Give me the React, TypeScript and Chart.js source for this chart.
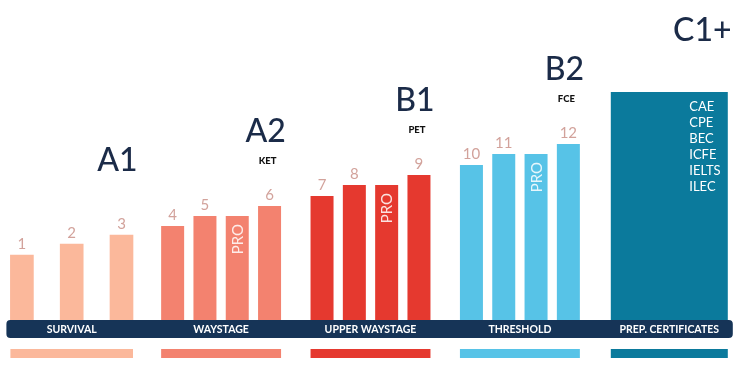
import React, { useEffect, useRef } from 'react';
import { Chart, registerables } from 'chart.js';

Chart.register(...registerables);

// ---- data ----
const categories = ['SURVIVAL', 'WAYSTAGE', 'UPPER WAYSTAGE', 'THRESHOLD', 'PREP. CERTIFICATES'];
const cefrLevels = ['A1', 'A2', 'B1', 'B2', 'C1+'];
const examNames = ['', 'KET', 'PET', 'FCE', ''];
const levelNumbers = ['1', '2', '3', '4', '5', '6', '7', '8', '9', '10', '11', '12'];
const levelScores = [6.5, 7.6, 8.5, 9.4, 10.4, 11.4, 12.4, 13.5, 14.5, 15.5, 16.6, 17.6];
const proScores: (number | null)[] = [null, 10.4, 13.5, 16.6, null];
const certScore = 22.8;
const certExams = ['CAE', 'CPE', 'BEC', 'ICFE', 'IELTS', 'ILEC'];
const proLabel = 'PRO';
const levelsPerGroup = 3;

const groupColors = ['#fbb89b', '#f3826f', '#e5392f', '#57c3e7', '#0b7a9c'];
const bandColor = '#163457';
const navyText = '#1b2b48';
const numberColor = '#d2a29b';
const FONT = 'Lato, "Open Sans", sans-serif';

const levelGroups = categories.length - 1;
const CERT = categories.length - 1;
// survival group (index 0) uses its own slot datasets, the other level groups share theirs
const survivalSlot = (k: number) =>
  categories.map((_, g) => (g === 0 ? levelScores[k] : null));
const levelSlot = (k: number) =>
  categories.map((_, g) => (g > 0 && g < levelGroups ? levelScores[g * levelsPerGroup + k] : null));
const certData = categories.map((_, g) => (g === CERT ? certScore : null));

// dataset index of the k-th numbered bar of group g
const levelDs = (g: number, k: number) => (g === 0 ? k : [3, 4, 6][k]);
const PRO_DS = 5;
const CERT_DS = 7;

const labelsPlugin = {
  id: 'infographic',
  afterDatasetsDraw(chart: any) {
    const ctx: CanvasRenderingContext2D = chart.ctx;
    const area = chart.chartArea;
    const xScale = chart.scales.x;
    const bar = (ds: number, g: number) => chart.getDatasetMeta(ds).data[g];
    const certBar = bar(CERT_DS, CERT);

    ctx.save();
    // band
    const firstBar = bar(levelDs(0, 0), 0);
    const bandLeft = firstBar.x - firstBar.width / 2 - 4;
    const bandRight = certBar.x + certBar.width / 2 + 5;
    const bandTop = area.bottom;
    const bandH = 18;
    ctx.fillStyle = bandColor;
    ctx.beginPath();
    (ctx as any).roundRect(bandLeft, bandTop, bandRight - bandLeft, bandH, 4);
    ctx.fill();

    // band labels + strips
    categories.forEach((cat, g) => {
      const cx = xScale.getPixelForValue(g);
      ctx.fillStyle = '#ffffff';
      ctx.font = `bold 10.5px ${FONT}`;
      ctx.textAlign = 'center';
      ctx.textBaseline = 'middle';
      ctx.fillText(cat, cx, bandTop + bandH / 2 + 0.5);

      let l: number, r: number;
      if (g < levelGroups) {
        const a = bar(levelDs(g, 0), g);
        const b = bar(levelDs(g, levelsPerGroup - 1), g);
        l = a.x - a.width / 2;
        r = b.x + b.width / 2;
      } else {
        l = certBar.x - certBar.width / 2;
        r = certBar.x + certBar.width / 2;
      }
      ctx.fillStyle = groupColors[g];
      ctx.fillRect(l, bandTop + 29, r - l, 9);
    });

    for (let g = 0; g < levelGroups; g++) {
      // level numbers
      for (let k = 0; k < levelsPerGroup; k++) {
        const el = bar(levelDs(g, k), g);
        ctx.fillStyle = numberColor;
        ctx.font = `15px ${FONT}`;
        ctx.textAlign = 'center';
        ctx.textBaseline = 'alphabetic';
        ctx.fillText(levelNumbers[g * levelsPerGroup + k], el.x, el.y - 6);
      }
      // PRO text
      if (proScores[g] != null) {
        const el = bar(PRO_DS, g);
        ctx.save();
        ctx.translate(el.x + 1, el.y + 8);
        ctx.rotate(-Math.PI / 2);
        ctx.fillStyle = 'rgba(255,255,255,0.85)';
        ctx.font = `15px ${FONT}`;
        ctx.textAlign = 'right';
        ctx.textBaseline = 'middle';
        ctx.fillText(proLabel, 0, 0);
        ctx.restore();
      }
      // CEFR + exam labels
      const last = bar(levelDs(g, levelsPerGroup - 1), g);
      ctx.fillStyle = navyText;
      ctx.font = `500 32px ${FONT}`;
      ctx.textAlign = 'center';
      ctx.textBaseline = 'alphabetic';
      ctx.fillText(cefrLevels[g], last.x - 4, last.y - 64);
      if (examNames[g]) {
        ctx.fillStyle = '#111111';
        ctx.font = `900 9.5px ${FONT}`;
        ctx.fillText(examNames[g], last.x - 2, last.y - 42);
      }
    }

    // C1+ label
    ctx.fillStyle = navyText;
    ctx.font = `500 32px ${FONT}`;
    ctx.textAlign = 'center';
    ctx.textBaseline = 'alphabetic';
    ctx.fillText(cefrLevels[CERT], certBar.x + 33, certBar.y - 51);

    // cert exams list
    ctx.fillStyle = '#ffffff';
    ctx.font = `13px ${FONT}`;
    ctx.textAlign = 'left';
    certExams.forEach((t, i) => {
      ctx.fillText(t, certBar.x + 20, certBar.y + 19 + i * 16);
    });
    ctx.restore();
  },
};

export default function App() {
  const ref = useRef<HTMLCanvasElement | null>(null);

  useEffect(() => {
    if (!ref.current) return;
    const base = {
      skipNull: true,
      barPercentage: 1,
      maxBarThickness: 23,
      borderWidth: 0,
      backgroundColor: groupColors,
    };
    const survival = { ...base, categoryPercentage: 1.0 };
    const level = { ...base, categoryPercentage: 0.865 };
    const chart = new Chart(ref.current, {
      type: 'bar',
      data: {
        labels: categories,
        datasets: [
          { label: levelNumbers[0], data: survivalSlot(0), ...survival },
          { label: levelNumbers[1], data: survivalSlot(1), ...survival },
          { label: levelNumbers[2], data: survivalSlot(2), ...survival },
          { label: 'Level (1st)', data: levelSlot(0), ...level },
          { label: 'Level (2nd)', data: levelSlot(1), ...level },
          { label: proLabel, data: proScores, ...level },
          { label: 'Level (3rd)', data: levelSlot(2), ...level },
          { label: 'Certificates', data: certData, ...level, maxBarThickness: 117 },
        ],
      },
      options: {
        animation: false,
        responsive: true,
        maintainAspectRatio: false,
        layout: { padding: { left: 0, right: 0, top: 0, bottom: 52 } },
        plugins: { legend: { display: false }, tooltip: { enabled: false } },
        scales: {
          x: { display: false, grid: { display: false } },
          y: { display: false, min: 0, max: 32, grid: { display: false } },
        },
      } as any,
      plugins: [labelsPlugin],
    });
    return () => chart.destroy();
  }, []);

  return (
    <div style={{ position: 'fixed', left: 0, top: 0, width: 740, height: 372, background: '#ffffff', overflow: 'hidden' }}>
      <div style={{ position: 'absolute', left: -3, top: 0, width: 747, height: 372 }}>
        <canvas ref={ref} />
      </div>
    </div>
  );
}
